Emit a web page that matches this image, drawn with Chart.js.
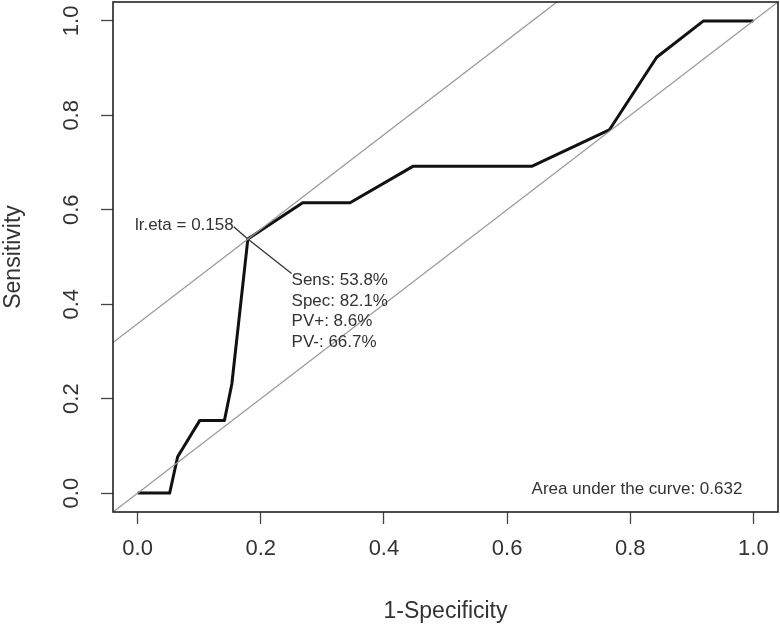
<!DOCTYPE html>
<html>
<head>
<meta charset="utf-8">
<script src="https://cdn.jsdelivr.net/npm/chart.js@4.4.1/dist/chart.umd.min.js"></script>
<style>
html,body{margin:0;padding:0;background:#fff;}
#wrap{width:780px;height:632px;position:relative;}
</style>
</head>
<body>
<div id="wrap"><canvas id="c" width="780" height="632"></canvas></div>
<script>
// ---- data ----
const fpr = [0, 0.052, 0.065, 0.101, 0.141, 0.153, 0.179, 0.268, 0.345, 0.447, 0.640, 0.766, 0.843, 0.919, 1.0];
const tpr = [0, 0, 0.077, 0.154, 0.154, 0.231, 0.538, 0.615, 0.615, 0.692, 0.692, 0.769, 0.923, 1.0, 1.0];
const tickValues = [0, 0.2, 0.4, 0.6, 0.8, 1.0];
const axisRange = [-0.04, 1.04];
const optFpr = 0.179;
const optTpr = 0.538;
const etaLabel = "lr.eta = 0.158";
const statLabels = ["Sens: 53.8%", "Spec: 82.1%", "PV+: 8.6%", "PV-: 66.7%"];
const aucLabel = "Area under the curve: 0.632";
const xTitle = "1-Specificity";
const yTitle = "Sensitivity";

const FONT = "'Liberation Sans', Arial, Helvetica, sans-serif";
const TXT = '#333333';

const rocPoints = fpr.map((x, i) => ({x: x, y: tpr[i]}));
const diagPoints = axisRange.map(v => ({x: v, y: v}));
const offset = optTpr - optFpr;
const optLinePoints = axisRange.map(v => ({x: v, y: v + offset}));
// leader lines from the optimal point to the two labels
const etaAnchor = {x: optFpr - 0.023, y: optTpr + 0.026};
const statAnchor = {x: optFpr + 0.071, y: optTpr - 0.073};
const leaderUp = [etaAnchor, {x: optFpr, y: optTpr}];
const leaderDown = [{x: optFpr, y: optTpr}, statAnchor];

const annot = {
  id: 'annot',
  afterDatasetsDraw(chart) {
    const {ctx, chartArea: a, scales: {x, y}} = chart;
    ctx.save();
    // frame
    ctx.strokeStyle = '#222';
    ctx.lineWidth = 1.6;
    ctx.strokeRect(a.left, a.top, a.right - a.left, a.bottom - a.top);
    ctx.fillStyle = TXT;
    ctx.font = '17px ' + FONT;
    // eta label
    ctx.textAlign = 'right';
    ctx.textBaseline = 'middle';
    ctx.fillText(etaLabel, x.getPixelForValue(etaAnchor.x), y.getPixelForValue(etaAnchor.y) - 1);
    // stats
    ctx.textAlign = 'left';
    const sx = x.getPixelForValue(statAnchor.x);
    const sy = y.getPixelForValue(statAnchor.y);
    statLabels.forEach((t, i) => ctx.fillText(t, sx, sy + 7 + i * 20.5));
    // AUC
    ctx.textAlign = 'right';
    ctx.fillText(aucLabel, x.getPixelForValue(1) - 11, y.getPixelForValue(0) - 4);
    ctx.restore();
  }
};

new Chart(document.getElementById('c'), {
  type: 'scatter',
  data: {
    datasets: [
      {data: diagPoints, showLine: true, borderColor: '#9a9a9a', borderWidth: 1.3, pointRadius: 0},
      {data: optLinePoints, showLine: true, borderColor: '#9a9a9a', borderWidth: 1.3, pointRadius: 0},
      {data: leaderUp, showLine: true, borderColor: '#333', borderWidth: 1.3, pointRadius: 0},
      {data: leaderDown, showLine: true, borderColor: '#333', borderWidth: 1.3, pointRadius: 0},
      {data: rocPoints, showLine: true, borderColor: '#111', borderWidth: 3, pointRadius: 0, borderJoinStyle: 'round'}
    ]
  },
  options: {
    responsive: false,
    animation: false,
    devicePixelRatio: 1,
    layout: {padding: {top: 2, right: 2, left: 0, bottom: 0}},
    plugins: {legend: {display: false}, tooltip: {enabled: false}},
    scales: {
      x: {
        type: 'linear', min: axisRange[0], max: axisRange[1],
        afterBuildTicks: s => { s.ticks = tickValues.map(v => ({value: v})); },
        afterFit: s => { s.height = 120; s.paddingLeft = 0; s.paddingRight = 0; },
        grid: {drawOnChartArea: false, drawTicks: true, tickLength: 12, tickColor: '#444', tickWidth: 1.3},
        border: {display: false},
        ticks: {color: TXT, font: {family: FONT, size: 22}, padding: 12, maxRotation: 0, autoSkip: false,
                callback: v => Number(v).toFixed(1)},
        title: {display: true, text: xTitle, color: TXT, font: {family: FONT, size: 23}, padding: {top: 0, bottom: 7}}
      },
      y: {
        type: 'linear', min: axisRange[0], max: axisRange[1],
        afterBuildTicks: s => { s.ticks = tickValues.map(v => ({value: v})); },
        afterFit: s => { s.width = 113; s.paddingTop = 0; s.paddingBottom = 0; },
        grid: {drawOnChartArea: false, drawTicks: true, tickLength: 12, tickColor: '#444', tickWidth: 1.3},
        border: {display: false},
        ticks: {color: TXT, font: {family: FONT, size: 22}, padding: 14, minRotation: 90, maxRotation: 90,
                crossAlign: 'center', autoSkip: false, callback: v => Number(v).toFixed(1)},
        title: {display: true, text: yTitle, color: TXT, font: {family: FONT, size: 23}, padding: {top: 0, bottom: 0}}
      }
    }
  },
  plugins: [annot]
});
</script>
</body>
</html>
